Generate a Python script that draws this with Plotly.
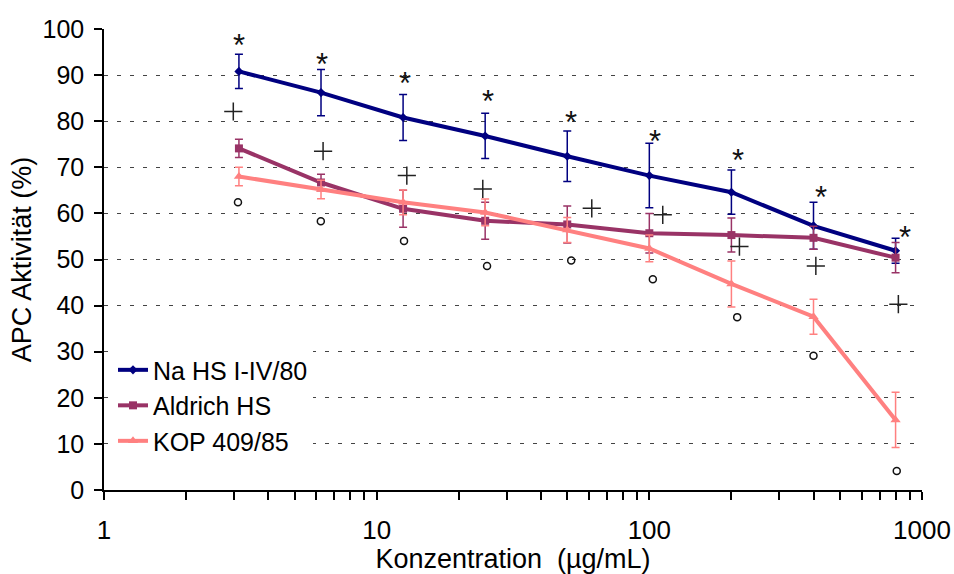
import numpy as np
import plotly.graph_objects as go

# Concentrations (µg/mL) and mean APC activity (%) with error values
conc = [3.125, 6.25, 12.5, 25, 50, 100, 200, 400, 800]

na_hs = [90.8, 86.2, 80.8, 76.8, 72.4, 68.2, 64.6, 57.3, 51.9]
na_hs_err = [3.7, 5.0, 5.0, 4.9, 5.5, 7.0, 4.8, 5.1, 2.7]

aldrich = [74.1, 66.7, 61.0, 58.4, 57.6, 55.7, 55.3, 54.7, 50.4]
aldrich_err = [2.0, 1.8, 4.0, 4.0, 4.0, 4.3, 3.7, 2.5, 3.3]

kop = [68.0, 65.2, 62.4, 60.2, 56.4, 52.4, 44.7, 37.6, 15.2]
kop_err = [2.0, 2.0, 2.7, 2.9, 2.7, 2.9, 5.0, 3.8, 6.0]

series_names = ["Na HS I-IV/80", "Aldrich HS", "KOP 409/85"]

# Significance symbols: positions (x in µg/mL, y in %)
star_x = [3.12, 6.29, 12.7, 25.7, 51.8, 105, 212, 427, 866]
star_y = [98.0, 93.9, 89.7, 85.7, 81.3, 77.2, 73.0, 64.9, 56.4]

plus_x = [2.98, 6.36, 12.9, 24.5, 61.5, 112, 214, 408, 819]
plus_y = [82.1, 73.5, 68.2, 65.3, 61.1, 59.7, 52.8, 48.6, 40.3]

circ_x = [3.10, 6.24, 12.6, 25.4, 51.7, 103, 210, 400, 808]
circ_y = [62.4, 58.3, 54.0, 48.6, 49.8, 45.7, 37.5, 29.1, 4.1]

x_ticks = [1, 10, 100, 1000]
x_minor = [m * d for d in (1, 10, 100) for m in range(2, 10)]

FONT = "Liberation Sans, Arial, sans-serif"
colors = ["#000080", "#993366", "#FF8080"]
symbols = ["diamond", "square", "triangle-up"]
msizes = [7, 8, 9]

fig = go.Figure()

for i, (vals, errs) in enumerate([(na_hs, na_hs_err), (aldrich, aldrich_err), (kop, kop_err)]):
    fig.add_trace(go.Scatter(
        x=conc, y=vals, name=series_names[i], legendgroup=series_names[i],
        mode="lines+markers",
        line=dict(color=colors[i], width=4),
        marker=dict(symbol=symbols[i], size=msizes[i], color=colors[i]),
        error_y=dict(type="data", array=errs, visible=True,
                     color=colors[i], thickness=1.5, width=4),
    ))

fig.add_trace(go.Scatter(
    x=plus_x, y=plus_y, mode="markers", showlegend=False, hoverinfo="skip",
    marker=dict(symbol="cross-thin-open", size=13, color="#222222",
                line=dict(color="#222222", width=1.5)),
))
fig.add_trace(go.Scatter(
    x=circ_x, y=circ_y, mode="markers", showlegend=False, hoverinfo="skip",
    marker=dict(symbol="circle-open", size=7, color="#111111",
                line=dict(color="#111111", width=1.5)),
))

for sx, sy in zip(star_x, star_y):
    fig.add_annotation(x=np.log10(sx), y=sy, text="*", showarrow=False,
                       xanchor="center", yanchor="middle", yshift=-7,
                       font=dict(family=FONT, size=31, color="#111111"))

fig.update_layout(
    width=954, height=574,
    margin=dict(l=104, r=32, t=29, b=84, autoexpand=False),
    paper_bgcolor="white", plot_bgcolor="white",
    font=dict(family=FONT, color="black"),
    showlegend=True,
    legend=dict(
        x=0.011, y=0.31, xanchor="left", yanchor="top",
        bgcolor="white", borderwidth=0,
        font=dict(family=FONT, size=25, color="black"),
        tracegroupgap=2, traceorder="normal",
    ),
    xaxis=dict(
        type="log", range=[0, 3],
        tickvals=x_ticks, ticktext=[str(v) for v in x_ticks],
        ticks="outside", ticklen=8, tickwidth=1.5, tickcolor="black",
        ticklabelstandoff=8,
        minor=dict(tickvals=x_minor, ticks="outside", ticklen=8,
                   tickwidth=1.5, tickcolor="black", showgrid=False),
        showline=True, linecolor="black", linewidth=1.5,
        showgrid=False, zeroline=False,
        tickfont=dict(family=FONT, size=26, color="black"),
        title=dict(text="Konzentration \u00a0(µg/mL)", standoff=12,
                   font=dict(family=FONT, size=27, color="black")),
    ),
    yaxis=dict(
        range=[0, 100], dtick=10, tick0=0,
        ticks="outside", ticklen=8, tickwidth=1.5, tickcolor="black",
        ticklabelstandoff=5,
        showline=True, linecolor="black", linewidth=1.5,
        showgrid=True, gridcolor="#444444", gridwidth=1, griddash="4px,9px",
        zeroline=False,
        tickfont=dict(family=FONT, size=25, color="black"),
        title=dict(text="APC Aktivität (%)", standoff=3,
                   font=dict(family=FONT, size=27, color="black")),
    ),
)

fig.write_html("out.html")
